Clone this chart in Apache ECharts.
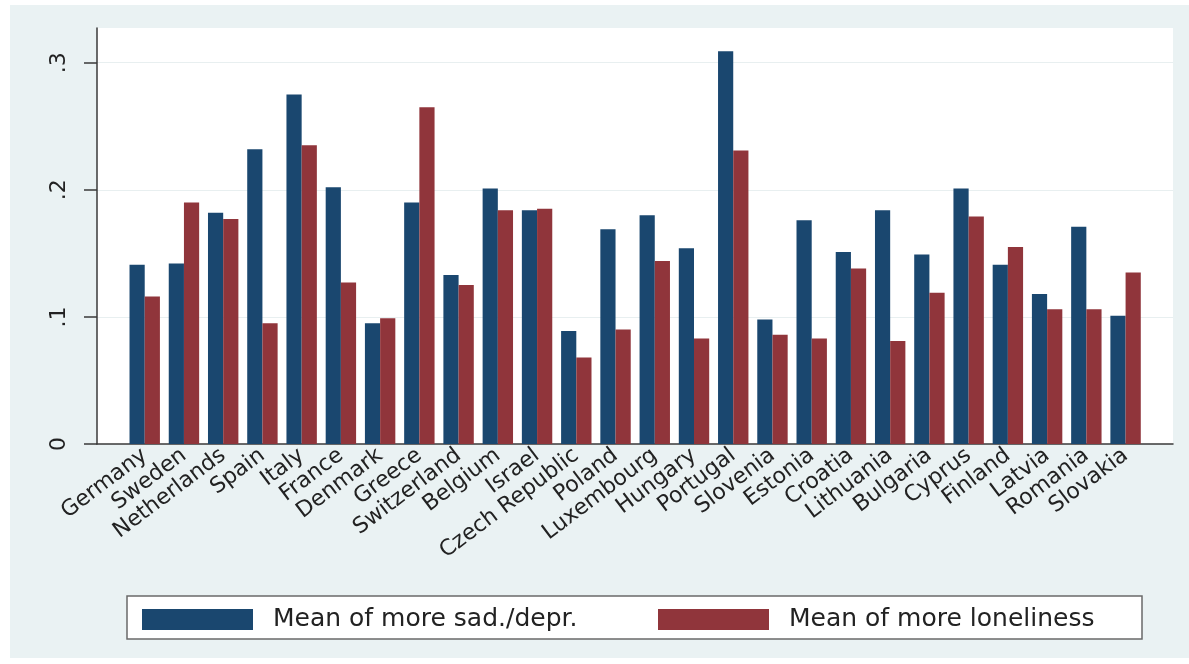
<!DOCTYPE html>
<html>
<head>
<meta charset="utf-8">
<script src="https://cdn.jsdelivr.net/npm/echarts@6/dist/echarts.min.js"></script>
<style>
html,body{margin:0;padding:0;background:#ffffff;width:1189px;height:664px;overflow:hidden;}
#bg{position:absolute;left:10px;top:5px;right:0;bottom:6px;background:#eaf2f3;}
#chart{position:absolute;left:0;top:0;width:1189px;height:664px;}
</style>
</head>
<body>
<div id="bg"></div>
<div id="chart"></div>
<script>
const countries = ["Germany","Sweden","Netherlands","Spain","Italy","France","Denmark","Greece","Switzerland","Belgium","Israel","Czech Republic","Poland","Luxembourg","Hungary","Portugal","Slovenia","Estonia","Croatia","Lithuania","Bulgaria","Cyprus","Finland","Latvia","Romania","Slovakia"];
const sadDepr = [0.141,0.142,0.182,0.232,0.275,0.202,0.095,0.190,0.133,0.201,0.184,0.089,0.169,0.180,0.154,0.309,0.098,0.176,0.151,0.184,0.149,0.201,0.141,0.118,0.171,0.101];
const loneliness = [0.116,0.190,0.177,0.095,0.235,0.127,0.099,0.265,0.125,0.184,0.185,0.068,0.090,0.144,0.083,0.231,0.086,0.083,0.138,0.081,0.119,0.179,0.155,0.106,0.106,0.135];
const yTicks = [0, 0.1, 0.2, 0.3];
const seriesNames = ["Mean of more sad./depr.", "Mean of more loneliness"];

const font = "DejaVu Sans";
const yMax = 0.3273;
const chart = echarts.init(document.getElementById('chart'));
chart.setOption({
  backgroundColor: 'transparent',
  animation: false,
  graphic: [{
    type: 'rect', z: 1,
    shape: {x: 127, y: 596, width: 1015, height: 43},
    style: {fill: '#ffffff', stroke: '#6a6a6a', lineWidth: 1.5}
  }],
  legend: [{
    data: [seriesNames[0]], left: 142, top: 607, padding: 0, itemGap: 0,
    itemWidth: 111, itemHeight: 21, icon: 'rect',
    textStyle: {fontFamily: font, fontSize: 25, color: '#222', lineHeight: 21, padding: [0,0,0,15]}
  },{
    data: [seriesNames[1]], left: 658, top: 607, padding: 0, itemGap: 0,
    itemWidth: 111, itemHeight: 21, icon: 'rect',
    textStyle: {fontFamily: font, fontSize: 25, color: '#222', lineHeight: 21, padding: [0,0,0,15]}
  }],
  grid: [
    {left: 97, top: 28, width: 1076, height: 416, show: true, backgroundColor: '#ffffff', borderWidth: 0},
    {left: 125.1, top: 28, width: 1020.1, height: 416, show: false}
  ],
  xAxis: [
    {gridIndex: 0, type: 'value', min: 0, max: 1, axisLine: {show: true, lineStyle: {color: '#3a3a3a', width: 1.5}},
     axisTick: {show: false}, axisLabel: {show: false}, splitLine: {show: false}},
    {gridIndex: 1, type: 'category', data: countries, axisLine: {show: false}, axisTick: {show: false},
     axisLabel: {interval: 0, rotate: 37, margin: 9, fontFamily: font, fontSize: 22, color: '#222'}}
  ],
  yAxis: [
    {gridIndex: 0, type: 'value', min: 0, max: yMax, interval: 0.1,
     axisLine: {show: true, lineStyle: {color: '#3a3a3a', width: 1.5}},
     axisTick: {show: true, length: 13, customValues: yTicks, lineStyle: {color: '#3a3a3a', width: 1.5}},
     axisLabel: {customValues: yTicks, rotate: 90, margin: 27, fontFamily: font, fontSize: 22, color: '#222',
       formatter: v => (Math.abs(v) < 1e-9 ? '0' : '.' + Math.round(v * 10))},
     splitLine: {show: true, lineStyle: {color: '#e8eff0', width: 1.2}}},
    {gridIndex: 1, type: 'value', min: 0, max: yMax, show: false, splitLine: {show: false}}
  ],
  series: [
    {name: seriesNames[0], type: 'bar', xAxisIndex: 1, yAxisIndex: 1, data: sadDepr,
     barWidth: 15.2, barGap: '0%', itemStyle: {color: '#1a476f'}},
    {name: seriesNames[1], type: 'bar', xAxisIndex: 1, yAxisIndex: 1, data: loneliness,
     barWidth: 15.2, barGap: '0%', itemStyle: {color: '#90353b'}}
  ]
});
</script>
</body>
</html>
